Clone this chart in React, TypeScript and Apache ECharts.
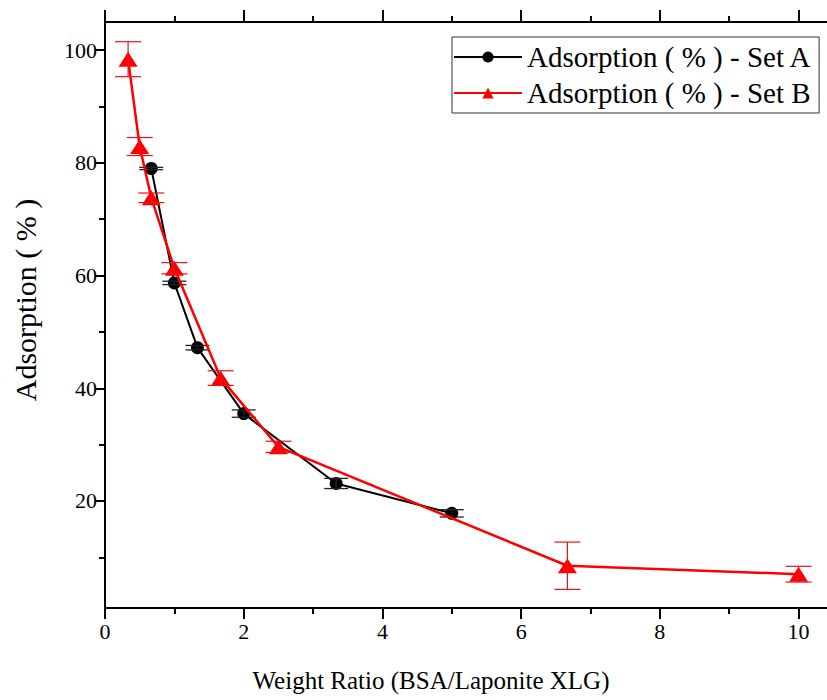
import React, { useEffect, useRef } from "react";
import * as echarts from "echarts";

const setAX = [0.667, 1.0, 1.333, 2.0, 3.333, 5.0];
const setAY = [79.0, 58.7, 47.2, 35.5, 23.1, 17.8];
const setAErr = [0.2, 0.3, 0.4, 0.65, 0.9, 0.65];

const setBX = [0.333, 0.5, 0.667, 1.0, 1.667, 2.5, 6.667, 10.0];
const setBY = [98.4, 82.9, 73.8, 61.3, 41.8, 29.6, 8.5, 7.0];
const setBErr = [3.1, 1.6, 0.85, 1.0, 1.3, 1.0, 4.2, 1.4];

const xMajorTicks = [0, 2, 4, 6, 8, 10];
const xMinorTicks = [1, 3, 5, 7, 9];
const yMajorTicks = [20, 40, 60, 80, 100];
const yMinorTicks = [10, 30, 50, 70, 90];

const nameA = "Adsorption ( % ) - Set A";
const nameB = "Adsorption ( % ) - Set B";

const FONT = "Liberation Serif";

function errRender(color: string, lw: number, half: number) {
  return (params: any, api: any) => {
    const x = api.value(0);
    const y = api.value(1);
    const e = api.value(2);
    const top = api.coord([x, y + e]);
    const bot = api.coord([x, y - e]);
    const style = { stroke: color, lineWidth: lw, fill: "none" };
    return {
      type: "group",
      children: [
        { type: "line", shape: { x1: top[0], y1: top[1], x2: bot[0], y2: bot[1] }, style },
        { type: "line", shape: { x1: top[0] - half, y1: top[1], x2: top[0] + half, y2: top[1] }, style },
        { type: "line", shape: { x1: bot[0] - half, y1: bot[1], x2: bot[0] + half, y2: bot[1] }, style },
      ],
    };
  };
}

export default function App() {
  const ref = useRef<HTMLDivElement>(null);
  useEffect(() => {
    if (!ref.current) return;
    const chart = echarts.init(ref.current, undefined, { renderer: "svg" });
    const xMin = 0;
    const xMax = 10.41;
    const yMin = 1;
    const yMax = 105;
    const axisLineStyle = { color: "#000", width: 2 };
    const baseX = { type: "value", min: xMin, max: xMax, splitLine: { show: false } };
    const baseY = { type: "value", min: yMin, max: yMax, splitLine: { show: false } };
    const dataA = setAX.map((x, i) => [x, setAY[i]]);
    const dataB = setBX.map((x, i) => [x, setBY[i]]);
    const errA = setAX.map((x, i) => [x, setAY[i], setAErr[i]]);
    const errB = setBX.map((x, i) => [x, setBY[i], setBErr[i]]);
    chart.setOption({
      animation: false,
      backgroundColor: "#fff",
      grid: { left: 105, top: 22, right: 0, bottom: 92, containLabel: false },
      legend: {
        data: [nameA, nameB],
        orient: "vertical",
        left: 452,
        top: 37,
        itemWidth: 68,
        itemHeight: 14,
        itemGap: 6,
        padding: [5, 7, 5, 1],
        borderColor: "#333",
        borderWidth: 1,
        backgroundColor: "#fff",
        textStyle: { fontFamily: FONT, fontSize: 29, color: "#000", lineHeight: 30 },
      },
      xAxis: [
        {
          ...baseX,
          position: "bottom",
          name: "Weight Ratio (BSA/Laponite XLG)",
          nameLocation: "middle",
          nameGap: 60,
          nameTextStyle: { fontFamily: FONT, fontSize: 25, color: "#000", padding: [0, 70, 0, 0] },
          axisLine: { show: true, onZero: false, lineStyle: axisLineStyle },
          axisTick: { show: true, inside: false, length: 11, lineStyle: { color: "#000", width: 2 }, customValues: xMajorTicks },
          axisLabel: { show: true, customValues: xMajorTicks, fontFamily: FONT, fontSize: 22, color: "#000", margin: 12 },
        },
        {
          ...baseX,
          position: "bottom",
          axisLine: { show: false, onZero: false },
          axisTick: { show: true, inside: false, length: 6, lineStyle: { color: "#000", width: 2 }, customValues: xMinorTicks },
          axisLabel: { show: false },
        },
        {
          ...baseX,
          position: "top",
          axisLine: { show: true, onZero: false, lineStyle: axisLineStyle },
          axisTick: { show: true, inside: false, length: 12, lineStyle: { color: "#000", width: 2 }, customValues: xMajorTicks },
          axisLabel: { show: false },
        },
        {
          ...baseX,
          position: "top",
          axisLine: { show: false, onZero: false },
          axisTick: { show: true, inside: false, length: 6, lineStyle: { color: "#000", width: 2 }, customValues: xMinorTicks },
          axisLabel: { show: false },
        },
      ],
      yAxis: [
        {
          ...baseY,
          position: "left",
          name: "Adsorption ( % )",
          nameLocation: "middle",
          nameGap: 65,
          nameRotate: 90,
          nameTextStyle: { fontFamily: FONT, fontSize: 30, color: "#000", padding: [0, 0, 0, 30] },
          axisLine: { show: true, onZero: false, lineStyle: axisLineStyle },
          axisTick: { show: true, inside: false, length: 10, lineStyle: { color: "#000", width: 2 }, customValues: yMajorTicks },
          axisLabel: { show: true, customValues: yMajorTicks, fontFamily: FONT, fontSize: 22, color: "#000", margin: 8 },
        },
        {
          ...baseY,
          position: "left",
          axisLine: { show: false, onZero: false },
          axisTick: { show: true, inside: false, length: 6, lineStyle: { color: "#000", width: 2 }, customValues: yMinorTicks },
          axisLabel: { show: false },
        },
      ],
      series: [
        {
          name: nameA,
          type: "line",
          xAxisIndex: 0,
          yAxisIndex: 0,
          data: dataA,
          symbol: "circle",
          symbolSize: 13,
          itemStyle: { color: "#000" },
          lineStyle: { color: "#000", width: 2 },
          z: 3,
        },
        {
          name: "errA",
          type: "custom",
          xAxisIndex: 0,
          yAxisIndex: 0,
          data: errA,
          encode: { x: 0, y: 1 },
          renderItem: errRender("#222", 1.3, 12),
          z: 4,
          silent: true,
        },
        {
          name: nameB,
          type: "line",
          xAxisIndex: 0,
          yAxisIndex: 0,
          data: dataB,
          symbol: "triangle",
          symbolSize: [19, 15],
          itemStyle: { color: "#ff0000" },
          lineStyle: { color: "#ff0000", width: 2.5 },
          z: 5,
        },
        {
          name: "errB",
          type: "custom",
          xAxisIndex: 0,
          yAxisIndex: 0,
          data: errB,
          encode: { x: 0, y: 1 },
          renderItem: errRender("#e8141a", 1.2, 13),
          z: 6,
          silent: true,
        },
      ],
    });
    return () => chart.dispose();
  }, []);
  return (
    <div
      ref={ref}
      style={{ position: "absolute", left: 0, top: 0, width: 827, height: 700, background: "#fff" }}
    />
  );
}
